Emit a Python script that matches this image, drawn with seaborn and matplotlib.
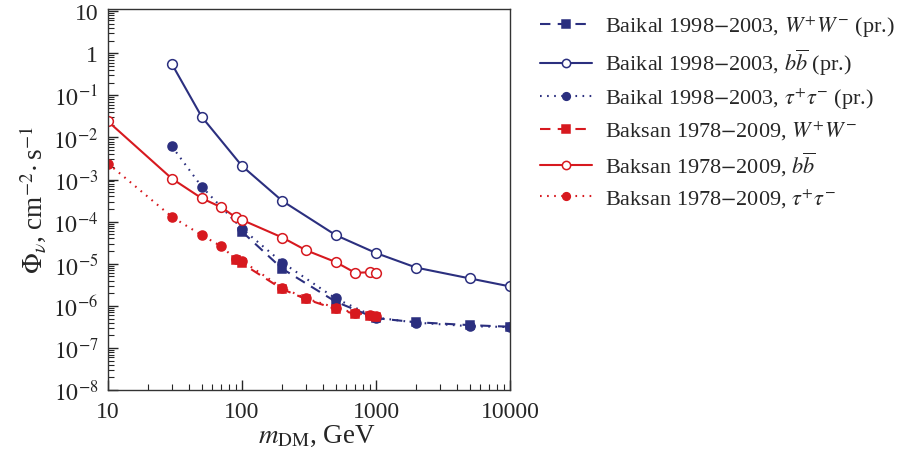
import matplotlib
matplotlib.use("Agg")
import matplotlib.pyplot as plt
import matplotlib.ticker as mticker
import numpy as np
import pandas as pd
import seaborn as sns

# Data
baikal_ww_m = [100, 200, 500, 1000, 2000, 5000, 10000]
baikal_ww_flux = [5.8e-5, 7.6e-6, 1.26e-6, 5.1e-7, 4.1e-7, 3.5e-7, 3.2e-7]

baikal_bb_m = [30, 50, 100, 200, 500, 1000, 2000, 5000, 10000]
baikal_bb_flux = [0.55, 0.031, 2.1e-3, 3.1e-4, 4.8e-5, 1.8e-5, 8.1e-6, 4.5e-6, 2.9e-6]

baikal_tau_m = [30, 50, 100, 200, 500, 1000, 2000, 5000, 10000]
baikal_tau_flux = [6.1e-3, 6.8e-4, 6.8e-5, 1.07e-5, 1.5e-6, 5.3e-7, 4.0e-7, 3.3e-7, 3.15e-7]

baksan_ww_m = [90, 100, 200, 300, 500, 700, 900, 1000]
baksan_ww_flux = [1.2e-5, 1.02e-5, 2.5e-6, 1.45e-6, 8.4e-7, 6.5e-7, 5.9e-7, 5.6e-7]

baksan_bb_m = [10, 30, 50, 70, 90, 100, 200, 300, 500, 700, 900, 1000]
baksan_bb_flux = [0.024, 1.05e-3, 3.6e-4, 2.2e-4, 1.26e-4, 1.1e-4, 4.2e-5, 2.1e-5, 1.1e-5, 6.1e-6, 6.3e-6, 5.9e-6]

baksan_tau_m = [10, 30, 50, 70, 90, 100, 200, 300, 500, 700, 900, 1000]
baksan_tau_flux = [2.4e-3, 1.3e-4, 4.8e-5, 2.6e-5, 1.28e-5, 1.17e-5, 2.7e-6, 1.5e-6, 9.1e-7, 6.7e-7, 6.2e-7, 5.8e-7]

labels = [r'Baikal 1998$-$2003, $W^{+}W^{-}$ (pr.)',
          r'Baikal 1998$-$2003, $b\overline{b}$ (pr.)',
          r'Baikal 1998$-$2003, $\tau^{+}\tau^{-}$ (pr.)',
          r'Baksan 1978$-$2009, $W^{+}W^{-}$',
          r'Baksan 1978$-$2009, $b\overline{b}$',
          r'Baksan 1978$-$2009, $\tau^{+}\tau^{-}$']

blue = '#2b2f7f'
red = '#d7191f'

sns.set_style("ticks")
plt.rcParams['font.family'] = ['Liberation Serif', 'DejaVu Serif']
plt.rcParams['mathtext.fontset'] = 'stix'

fig = plt.figure(figsize=(8.97, 4.64), dpi=100)
ax = fig.add_axes([0.1204, 0.157, 0.4482, 0.8225])

dashed = (0, (5, 3.5))
dotted = (0, (0.8, 2.6))

series = [
    (baikal_ww_m, baikal_ww_flux, blue, dashed, 's', blue, 6),
    (baikal_bb_m, baikal_bb_flux, blue, '-', 'o', 'white', 7),
    (baikal_tau_m, baikal_tau_flux, blue, dotted, 'o', blue, 6.5),
    (baksan_ww_m, baksan_ww_flux, red, dashed, 's', red, 6),
    (baksan_bb_m, baksan_bb_flux, red, '-', 'o', 'white', 7),
    (baksan_tau_m, baksan_tau_flux, red, dotted, 'o', red, 6.5),
]

for (m, flux, col, ls, mk, face, ms), lab in zip(series, labels):
    df = pd.DataFrame({'m': m, 'flux': flux})
    sns.lineplot(data=df, x='m', y='flux', ax=ax, color=col, linestyle=ls,
                 linewidth=1.5, marker=mk, markersize=ms, markerfacecolor=face,
                 markeredgecolor=col, markeredgewidth=1.1, label=lab)

ax.set_xscale('log')
ax.set_yscale('log')
ax.set_xlim(10, 10000)
ax.set_ylim(1e-8, 11.5)


def ylab(v, pos):
    e = int(round(np.log10(v)))
    if e == 1:
        return '10'
    if e == 0:
        return '1'
    return r'$10^{%d}$' % e


ax.yaxis.set_major_locator(mticker.LogLocator(base=10, numticks=20))
ax.yaxis.set_major_formatter(mticker.FuncFormatter(ylab))
ax.yaxis.set_minor_locator(mticker.LogLocator(base=10, subs=np.arange(2, 10), numticks=20))
ax.yaxis.set_minor_formatter(mticker.NullFormatter())
ax.xaxis.set_major_formatter(mticker.FuncFormatter(lambda v, p: '%d' % v))
ax.xaxis.set_minor_formatter(mticker.NullFormatter())

ax.tick_params(which='both', direction='in', labelsize=17, top=False, right=False)
ax.tick_params(which='major', length=7, width=1)
ax.tick_params(which='minor', length=4, width=0.8)
ax.tick_params(axis='x', which='major', pad=8)
ax.tick_params(axis='y', which='major', pad=7)
for s in ax.spines.values():
    s.set_linewidth(1.0)
    s.set_color('#333333')

ax.set_xlabel(r'$m_{\rm DM}$, GeV', fontsize=19.5)
ax.xaxis.set_label_coords(0.52, -0.085)
ax.set_ylabel(r'$\Phi_{\nu}$, cm$^{-2}\!\cdot$s$^{-1}$', fontsize=19.5, labelpad=4)

ax.legend(loc='upper left', bbox_to_anchor=(1.035, 1.028), frameon=False,
          fontsize=16, handlelength=2.35, numpoints=1, labelspacing=0.36,
          handletextpad=0.6, borderaxespad=0.3, markerscale=0.85)

fig.savefig('out.png', dpi=100)
